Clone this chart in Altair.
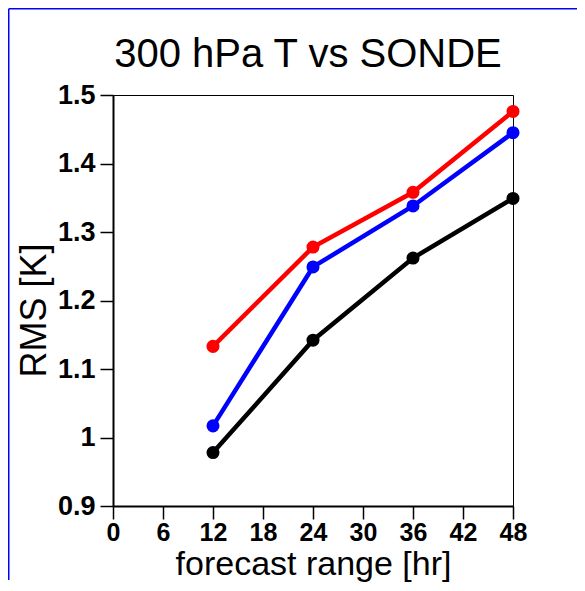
import altair as alt
import pandas as pd

hours = [12, 24, 36, 48]
series_names = ["red run", "blue run", "black run"]
red_vals = [1.133, 1.278, 1.358, 1.476]
blue_vals = [1.017, 1.249, 1.338, 1.445]
black_vals = [0.978, 1.142, 1.262, 1.349]
colors = ["#ff0000", "#0000ff", "#000000"]
x_ticks = [0, 6, 12, 18, 24, 30, 36, 42, 48]
y_ticks = [0.9, 1.0, 1.1, 1.2, 1.3, 1.4, 1.5]
title_text = "300 hPa T vs SONDE"

rows = []
for name, vals in zip(series_names, [red_vals, blue_vals, black_vals]):
    for h, v in zip(hours, vals):
        rows.append({"hour": h, "rms": v, "series": name, "order": series_names.index(name)})
df = pd.DataFrame(rows)

FONT = "Liberation Sans"

x_enc = alt.X("hour:Q", scale=alt.Scale(domain=[0, 48], nice=False, zero=False),
              axis=alt.Axis(values=x_ticks, title="forecast range [hr]", titleY=68,
                            titleBaseline="alphabetic", titleFontSize=34,
                            titleFontWeight="normal", labelFontSize=25, labelFontWeight="bold",
                            labelPadding=1, tickSize=13, labelFlush=False))
y_enc = alt.Y("rms:Q", scale=alt.Scale(domain=[0.9, 1.5], nice=False, zero=False),
              axis=alt.Axis(values=y_ticks, format=".1~f", title="RMS [K]", titleX=-68, titleY=215,
                            titleAlign="center", titleBaseline="alphabetic", titleAngle=270,
                            titleFontSize=36, titleFontWeight="normal", labelFontSize=27,
                            labelFontWeight="bold", labelPadding=5, tickSize=13, labelFlush=False))
color_enc = alt.Color("series:N", scale=alt.Scale(domain=series_names, range=colors), legend=None)

base = alt.Chart(df)
lines = base.mark_line(strokeWidth=4.5, clip=False).encode(x=x_enc, y=y_enc, color=color_enc, detail="series:N")
points = base.mark_point(filled=True, size=170, opacity=1, clip=False).encode(
    x="hour:Q", y="rms:Q", color=color_enc, order="order:Q")

one = pd.DataFrame({"k": [0]})
frame_top = alt.Chart(one).mark_rule(color="#0000ff", strokeWidth=1.5, clip=False).encode(
    x=alt.value(-104.25), x2=alt.value(472), y=alt.value(-86.25))
frame_left = alt.Chart(one).mark_rule(color="#0000ff", strokeWidth=1.5, clip=False).encode(
    x=alt.value(-104.25), y=alt.value(-86.25), y2=alt.value(485))
title = alt.Chart(one).mark_text(font=FONT, fontSize=40, color="black", align="center",
                                  baseline="alphabetic").encode(
    x=alt.value(195), y=alt.value(-28), text=alt.value(title_text))

chart = alt.layer(frame_top, frame_left, lines, points, title).properties(
    width=400, height=411,
    autosize=alt.AutoSizeParams(type="none"),
    padding={"left": 105, "top": 87, "right": 64, "bottom": 77},
).configure_axis(
    labelFont=FONT, titleFont=FONT, labelColor="black", titleColor="black",
    domainColor="black", tickColor="black", domainWidth=2, tickWidth=1.5, grid=False,
).configure_view(stroke="black", strokeWidth=1)

chart.save("out.html", embed_options={"renderer": "svg", "actions": False})
